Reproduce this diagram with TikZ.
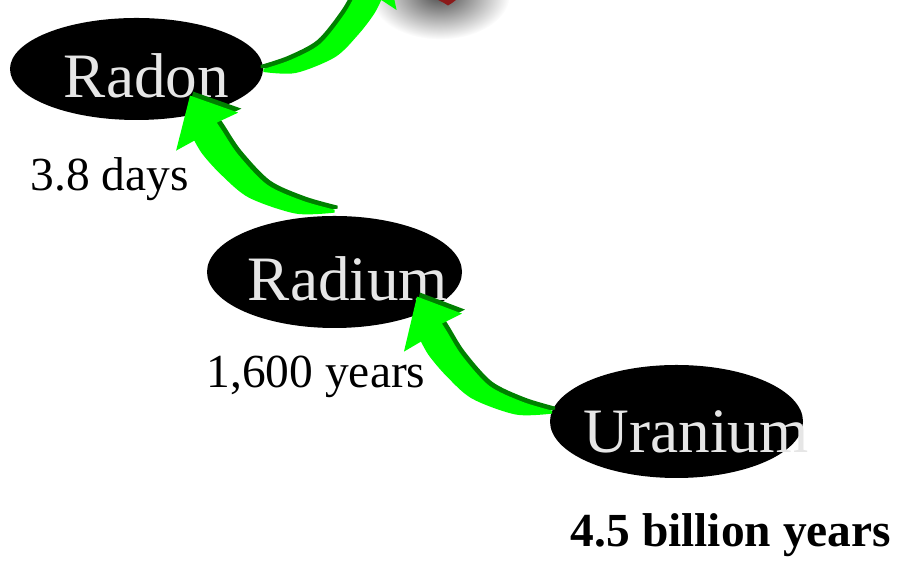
\documentclass[tikz,border=0pt]{standalone}
\usepackage{fontspec}
\setmainfont{Liberation Serif}
\usepackage{tikz}
\usetikzlibrary{shapes.geometric}
\definecolor{decaygreen}{HTML}{00FF00}
\definecolor{decaydark}{HTML}{008000}
\definecolor{namegray}{HTML}{E6E6E6}
\definecolor{boxred}{HTML}{8B1A1A}
\tikzset{
  nuclide/.style={ellipse, fill=black, inner sep=0pt},
  nucname/.style={anchor=base, text=namegray, font=\fontsize{36}{40}\selectfont},
  halflife/.style={anchor=base, font=\fontsize{27}{30}\selectfont},
  arrowface/.style={fill=decaygreen},
  arrowside/.style={fill=decaydark},
}
% curved block arrow, tail at #1, #2 = xscale (negative mirrors it)
\newcommand{\decayarrow}[2]{%
  \begin{scope}[shift={#1}, x=0.02cm, y=0.02cm, xscale=#2]
    \fill[arrowside, shift={(3,4)}] plot[smooth] coordinates {(0,0) (-30,9) (-63,25) (-90,55) (-105,79) (-110,87)}
      -- (-90,97) -- (-135,114) -- (-148,59) -- (-131,69)
      -- plot[smooth] coordinates {(-131,69) (-123,55) (-106,35) (-80,12) (-36,-4) (0,-3)} -- cycle;
    \fill[arrowface] plot[smooth] coordinates {(0,0) (-30,9) (-63,25) (-90,55) (-105,79) (-110,87)}
      -- (-90,97) -- (-135,114) -- (-148,59) -- (-131,69)
      -- plot[smooth] coordinates {(-131,69) (-123,55) (-106,35) (-80,12) (-36,-4) (0,-3)} -- cycle;
  \end{scope}}

\begin{document}
\begin{tikzpicture}
    \useasboundingbox (0,0) rectangle (17.96,11.24);

    % what is left of the top of the chain
    \begin{scope}
        \clip (0,0) rectangle (17.96,11.24);
        \shade[inner color=black!70, outer color=white] (8.8,11.35) ellipse (1.4cm and 0.9cm);
        \fill[boxred] (8.76,11.24) -- (9.12,11.24) -- (9.04,11.18) -- (8.96,11.13) -- (8.88,11.18) -- cycle;
    \end{scope}

    \node[nuclide, minimum width=5.06cm, minimum height=2.04cm] (radon) at (2.73,9.86) {};
    \node[nuclide, minimum width=5.1cm, minimum height=2.24cm] (radium) at (6.69,5.80) {};
    \node[nuclide, minimum width=5.06cm, minimum height=2.26cm] (uranium) at (13.53,2.81) {};

    \node[nucname] (radonname) at (2.93,9.28) {Radon};
    \node[nucname] (radiumname) at (6.96,5.22) {Radium};
    \node[nucname] (uraniumname) at (13.92,2.18) {Uranium};

    \node[halflife] (radonlife) at (2.19,7.42) {3.8 days};
    \node[halflife] (radiumlife) at (6.32,3.48) {1,600 years};
    \node[halflife, font=\fontsize{27}{30}\selectfont\bfseries] (uraniumlife) at (14.62,0.30) {4.5 billion years};

    \decayarrow{(uranium.175)}{1}
    \decayarrow{([yshift=0.12cm]radium.north)}{1.07}
    \decayarrow{(radon.east)}{-0.9}
\end{tikzpicture}
\end{document}
